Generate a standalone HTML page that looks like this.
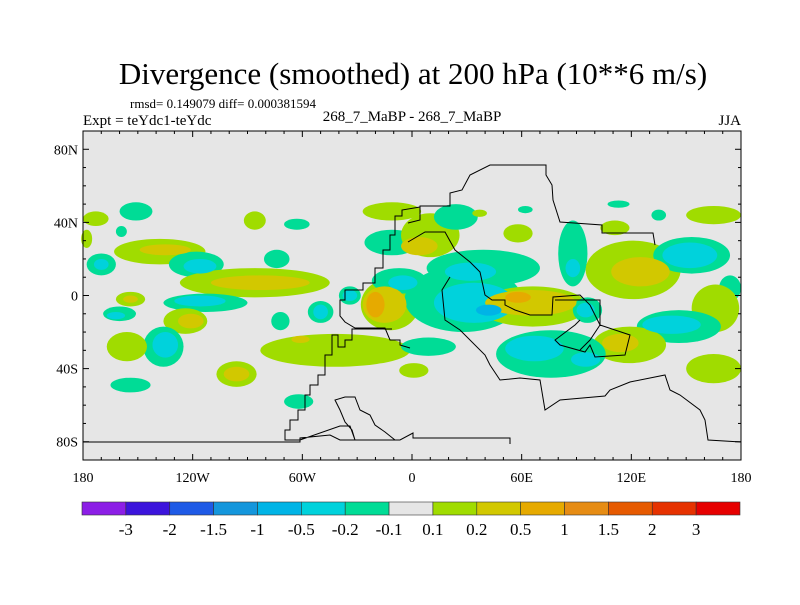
<!DOCTYPE html>
<html><head><meta charset="utf-8">
<style>
body{margin:0;background:#fff;}
svg text{font-family:"Liberation Serif",serif;fill:#000;}
</style></head>
<body>
<svg id="chart" width="800" height="600" viewBox="0 0 800 600">
<rect x="0" y="0" width="800" height="600" fill="#fff"/>
<text x="413" y="84" font-size="31" text-anchor="middle">Divergence (smoothed) at 200 hPa (10**6 m/s)</text>
<text x="130" y="108" font-size="13">rmsd= 0.149079 diff= 0.000381594</text>
<text x="83" y="125" font-size="15">Expt = teYdc1-teYdc</text>
<text x="412" y="121" font-size="15" text-anchor="middle">268_7_MaBP - 268_7_MaBP</text>
<text x="741" y="125" font-size="15" text-anchor="end">JJA</text>
<rect x="83" y="131" width="658" height="329" fill="#e6e6e6"/>
<g id="blobs"></g>
<path id="coast" fill="none" stroke="#000" stroke-width="1"
d="M420,207 L402,210 L402,216 L395,216 L395,235 L390,235 L390,250 L383,250 L383,268 L375,268 L375,283 L363,283 L363,290 L345,290 L345,300 L340,300 L340,316 L345,322 L355,328 L385,328 L390,340 L400,340 L400,345 L410,348
M392,329 L352,329 L352,340 L345,340 L345,347 L338,347 L338,335 L332,335 L332,355 L325,355 L325,375 L318,375 L318,385 L310,385 L310,395 L305,395 L305,410 L298,410 L298,420 L290,420 L290,430 L285,430 L285,440 L300,440 L340,426 L350,426 L355,440 L400,440 L413,433 L413,438 L510,438 L510,444
M83,442 L300,442 L300,438 L330,435 L340,440 L355,440 L352,430 L345,422 L340,410 L335,400 L345,397 L355,397 L360,410 L370,415 L375,425 L385,432 L395,440
M408,223 L420,220 L420,206 L450,206 L450,193 L462,190 L470,175 L490,165 L546,165 L546,175 L552,185 L553,200 L560,222 L602,225 L602,233 L653,233 L655,245
M408,242 L425,232 L445,232 L455,250 L470,262 L480,272 L485,295 L492,300 L505,300 L505,305 L515,310 L530,315 L552,315 L553,297 L580,295 L590,305 L600,325 L590,340 L580,350
M450,277 L442,290 L445,320 L460,330 L485,355 L490,365 L500,380 L520,378 L540,380 L545,410 L560,400 L605,396 L610,390 L630,382 L665,375 L670,390 L680,395 L700,410 L705,420 L708,440 L741,442
M555,300 L600,300 L600,325 L630,335 L625,355 L595,357 L590,345 L585,352 L560,345 L555,340 L575,325 L580,320"/>
<rect x="83" y="131" width="658" height="329" fill="none" stroke="#000" stroke-width="1"/>
<g id="ticks"></g>
<g id="cbar"></g>
</svg>
<script>
// blob data: [lon, lat, rlon, rlat, level]
const blobLon = [-173,-151,-159,-86,-63,-74,-138,-135,-170,-170,-118,-116,-86,-83,-113,-116,-154,-154,-124,-121,-136,-135,-156,-160,-162,-72,-50,-50,-34,-34,-42,-61,-96,-96,-154,-62,-11,-11,-12,-15,-20,-7,-5,-178,
 10,4,24,39,32,28,34,42,66,65,58,37,62,58,88,88,113,135,165,111,121,125,153,152,174,166,146,142,96,95,119,114,76,67,95,9,1,165];
const blobLat = [42,46,35,41,39,20,24,25,17,17,17,16,7,7,-4,-3,-2,-2,-14,-14,-28,-27,-28,-10,-11,-14,-9,-9,0,0,-30,-24,-43,-43,-49,-58,46,29,-5,-5,-5,8,7,31,
 33,27,43,15,13,-2,-4,-8,-6,-4,-1,45,47,34,23,15,50,44,44,37,14,13,22,22,4,-7,-17,-16,-8,-8,-27,-26,-32,-29,-35,-28,-41,-40];
const blobRLon = [7,9,3,6,7,7,25,14,8,4,15,9,41,27,23,14,8,4,12,7,11,7,11,9,5,5,7,4,6,4,41,5,11,7,11,8,16,15,16,12,5,15,8,3,
 16,10,12,31,14,32,22,7,30,25,7,4,4,8,8,4,6,4,15,8,26,16,21,15,6,13,23,16,8,5,20,10,30,16,8,15,8,15];
const blobRLat = [4,5,3,5,3,5,7,3,6,3,7,4,8,4,5,3,4,2,7,4,11,7,8,4,2,5,6,4,5,3,9,2,7,4,4,4,5,7,14,10,7,7,4,5,
 12,5,7,10,5,18,11,3,11,7,3,2,2,5,18,5,2,3,5,4,16,8,10,7,7,13,9,5,7,4,10,5,13,7,4,5,4,8];
const blobLevel = [1,-1,-1,1,-1,-1,1,2,-1,-2,-1,-2,1,2,-1,-2,1,2,1,2,-1,-2,1,-1,-2,-1,-1,-2,-1,-2,1,2,1,2,-1,-1,1,-1,1,2,3,-1,-2,1,
 1,2,-1,-1,-2,-1,-2,-3,1,2,3,1,-1,1,-1,-2,-1,-1,1,1,1,2,-1,-2,-1,1,-1,-2,-1,-2,1,2,-1,-2,-2,-1,1,1];
// colorbar
const cbarColors = ["#8c1ee6","#3c14dc","#1e5ae6","#1496dc","#00b4e6","#00d2dc","#00dc96","#e6e6e6","#a0dc00","#d2c800","#e6aa00","#e68c14","#e65a00","#e63200","#e60000"];
const cbarLabels = ["-3","-2","-1.5","-1","-0.5","-0.2","-0.1","0.1","0.2","0.5","1","1.5","2","3"];
const latTicks = [80,40,0,-40,-80];
const latTickLabels = ["80N","40N","0","40S","80S"];
const lonTicks = [-180,-120,-60,0,60,120,180];
const lonTickLabels = ["180","120W","60W","0","60E","120E","180"];

const NS="http://www.w3.org/2000/svg";
const X0=83,X1=741,Y0=131,Y1=460;
function xScale(lon){return X0+(lon+180)/360*(X1-X0);}
function yScale(lat){return Y0+(90-lat)/180*(Y1-Y0);}
function sx(d){return d/360*(X1-X0);}
function sy(d){return d/180*(Y1-Y0);}
const levelColor={"1":"#a0dc00","2":"#d2c800","3":"#e6aa00","-1":"#00dc96","-2":"#00d2dc","-3":"#00b4e6"};
const g=document.getElementById('blobs');
const idx=blobLon.map((_,i)=>i).sort((a,b)=>Math.abs(blobLevel[a])-Math.abs(blobLevel[b]));
idx.forEach(i=>{
  const e=document.createElementNS(NS,'ellipse');
  e.setAttribute('cx',xScale(blobLon[i]));
  e.setAttribute('cy',yScale(blobLat[i]));
  e.setAttribute('rx',sx(blobRLon[i]));
  e.setAttribute('ry',sy(blobRLat[i]));
  e.setAttribute('fill',levelColor[blobLevel[i]]);
  
  
  g.appendChild(e);
});
const t=document.getElementById('ticks');
function line(x1,y1,x2,y2){const l=document.createElementNS(NS,'line');l.setAttribute('x1',x1);l.setAttribute('y1',y1);l.setAttribute('x2',x2);l.setAttribute('y2',y2);l.setAttribute('stroke','#000');


t.appendChild(l);}
for(let lon=-180;lon<=180;lon+=10){const x=xScale(lon);const L=lon%60===0?6:3;line(x,Y1,x,Y1-L);line(x,Y0,x,Y0+L);}
for(let lat=-90;lat<=90;lat+=10){const y=yScale(lat);const L=lat%40===0?6:3;line(X0,y,X0+L,y);line(X1,y,X1-L,y);}
function txt(x,y,s,anchor,size,name){const e=document.createElementNS(NS,'text');e.setAttribute('x',x);e.setAttribute('y',y);e.setAttribute('text-anchor',anchor);e.setAttribute('font-size',size);e.textContent=s;


document.getElementById('chart').appendChild(e);}
latTicks.forEach((v,i)=>txt(78,yScale(v)+5,latTickLabels[i],'end',14,'y-tick-label'));
lonTicks.forEach((v,i)=>txt(xScale(v),482,lonTickLabels[i],'middle',14,'x-tick-label'));
const cb=document.getElementById('cbar');
const cw=(740-82)/cbarColors.length;
cbarColors.forEach((c,i)=>{const r=document.createElementNS(NS,'rect');r.setAttribute('x',82+i*cw);r.setAttribute('y',502);r.setAttribute('width',cw);r.setAttribute('height',13);r.setAttribute('fill',c);r.setAttribute('stroke','#333');r.setAttribute('stroke-width','0.6');


cb.appendChild(r);});
cbarLabels.forEach((s,i)=>txt(82+(i+1)*cw,535,s,'middle',17,'colorbar-label'));
</script>
</body></html>
